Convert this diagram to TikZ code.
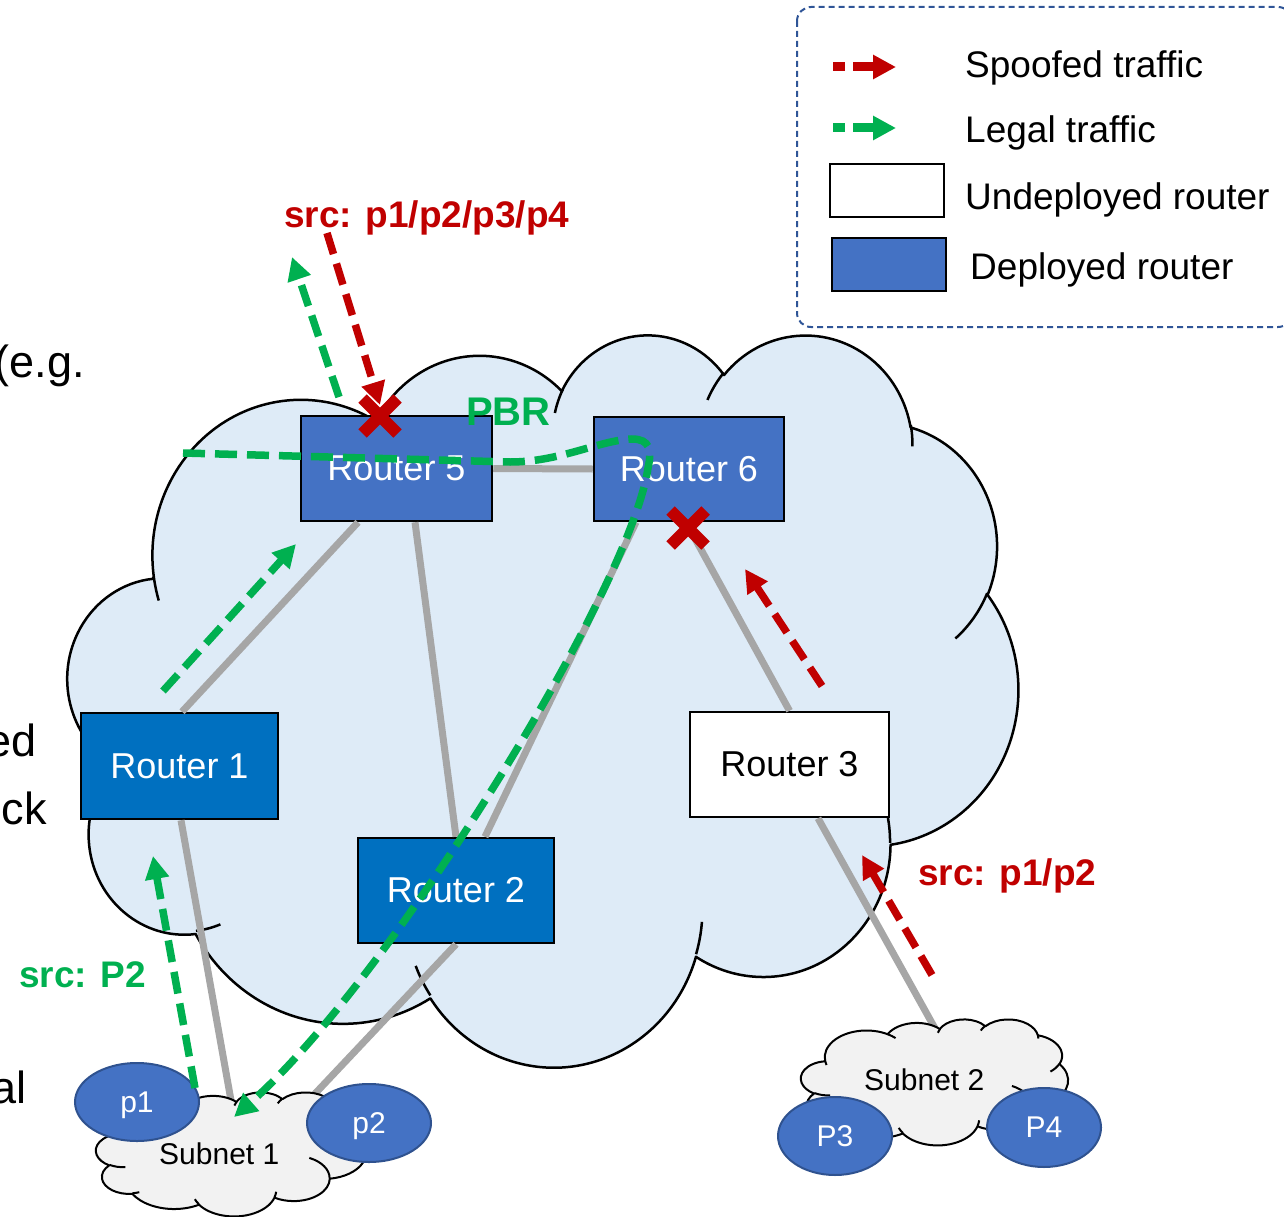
\documentclass[tikz,border=0pt]{standalone}
\usepackage{fontspec}
\setmainfont{Liberation Sans}
\usetikzlibrary{arrows.meta,shapes.geometric}

\definecolor{deployblue}{HTML}{4472C4}
\definecolor{routerblue}{HTML}{0070C0}
\definecolor{ovalrim}{HTML}{2F528F}
\definecolor{netfill}{HTML}{DEEBF7}
\definecolor{subnetfill}{HTML}{F2F2F2}
\definecolor{linkgray}{HTML}{A6A6A6}
\definecolor{legalgreen}{HTML}{00B050}
\definecolor{spoofred}{HTML}{C00000}
\definecolor{legendrim}{HTML}{2F5597}

% One elliptical lobe of a cloud: x radius, y radius, start angle, sweep.
% Angles are the directions seen from the lobe centre (y pointing down);
% they are turned into the parametric angles that arc expects.
\newcommand\lobearc[4]{arc[start angle={atan2((#1)*sin(#3),(#2)*cos(#3))},delta angle={mod(atan2((#1)*sin((#3)+(#4)),(#2)*cos((#3)+(#4)))-atan2((#1)*sin(#3),(#2)*cos(#3))+720,360)},x radius=#1,y radius=#2]}

% Cloud outline in a 4320 x 4320 box
\newcommand\cloudoutline{(390,1437)
 \lobearc{675.3}{919.0}{-190.4875}{123.7805}
 \lobearc{533.3}{726.7}{-144.1024}{89.9452}
 \lobearc{436.5}{594.5}{-145.8079}{99.7230}
 \lobearc{485.7}{659.5}{-130.9861}{117.2417}
 \lobearc{533.3}{727.3}{-78.7089}{109.0269}
 \lobearc{677.5}{922.0}{-46.2673}{130.2690}
 \lobearc{578.5}{786.7}{0.6250}{114.0333}
 \lobearc{675.2}{921.5}{22.4516}{115.1726}
 \lobearc{772.0}{1054.3}{66.2426}{75.7110}
 \lobearc{436.0}{591.8}{-274.9421}{146.7356}
 \lobearc{434.5}{594.5}{-246.8285}{152.5182}
 -- cycle}

% the short inner strokes between the lobes
\newcommand\cloudcreases{(469.3,2617.7) \lobearc{434.5}{594.5}{86.7420}{26.4295}
 (692.8,3489.9) \lobearc{436.0}{591.8}{73.6105}{11.4475}
 (1647.8,3909.0) \lobearc{675.2}{921.5}{137.6242}{14.0811}
 (2882.7,3475.1) \lobearc{675.2}{921.5}{6.4533}{15.9984}
 (3412.9,2295.4) \lobearc{578.5}{786.7}{-70.2924}{70.9174}
 (4179.8,1535.4) \lobearc{533.3}{727.3}{30.3180}{27.7515}
 (3832.4,542.6) \lobearc{485.7}{659.5}{-13.7443}{14.8589}
 (2907.8,395.2) \lobearc{485.7}{659.5}{-149.1815}{18.1954}
 (2214.1,472.0) \lobearc{436.5}{594.5}{-163.4943}{17.6864}
 (1400.0,519.2) \lobearc{675.3}{919.0}{-66.7070}{12.3194}
 (412.7,1578.9) \lobearc{675.3}{919.0}{157.6544}{11.8582}}

% left, top, x unit, y unit, fill, rim width
\newcommand\drawcloud[6]{%
  \begin{scope}[shift={(#1,#2)},x=#3,y=#4]
    \path[fill=#5,draw=black,line width=#6,line join=round] \cloudoutline;
    \draw[line width=#6] \cloudcreases;
  \end{scope}}

\begin{document}
\begin{tikzpicture}[x=1pt,y=-1pt,
  router/.style={draw=black,line width=2.5pt,inner sep=0pt,text=white,
    font=\fontsize{36}{40}\selectfont},
  host/.style={ellipse,draw=ovalrim,line width=2pt,fill=deployblue,inner sep=0pt,
    text=white,text depth=0pt,font=\fontsize{30}{34}\selectfont},
  link/.style={draw=linkgray,line width=7pt},
  legal/.style={draw=legalgreen,line width=7.5pt,dash pattern=on 22pt off 10pt,
    -{Triangle[length=23pt,width=23pt]}},
  spoof/.style={legal,draw=spoofred},
  xmark/.style={draw=spoofred,line width=12pt},
  flowtag/.style={font=\fontsize{37}{40}\selectfont\bfseries,inner sep=0pt,anchor=base west},
  plaintext/.style={inner sep=0pt,anchor=base west},
  legendtext/.style={font=\fontsize{37}{40}\selectfont,inner sep=0pt,anchor=base west},
  margintext/.style={font=\fontsize{45}{50}\selectfont,inner sep=0pt,anchor=base east},
  legendkey/.style={draw=black,line width=2.5pt,minimum width=114pt,minimum height=53pt,inner sep=0pt}]

\useasboundingbox (0,0) rectangle (1284,1217);

% the network cloud
\drawcloud{68}{333}{0.219907pt}{-0.169444pt}{netfill}{2.5pt}

% routers
\node[router,fill=deployblue,minimum width=191pt,minimum height=105pt] (r5) at (396.5,468.5) {Router 5};
\node[router,fill=deployblue,minimum width=190pt,minimum height=104pt] (r6) at (689,469) {Router 6};
\node[router,fill=routerblue,minimum width=197pt,minimum height=106pt] (r1) at (179.5,766) {Router 1};
\node[router,fill=routerblue,minimum width=196pt,minimum height=105pt] (r2) at (456,890.5) {Router 2};
\node[router,fill=white,text=black,minimum width=199pt,minimum height=105pt] (r3) at (789.5,764.5) {Router 3};

% attachment points on the subnets
\coordinate (s1a) at (232,1106);
\coordinate (s1b) at (310,1099);
\coordinate (s2a) at (937,1032);

% physical links
\draw[link] (r5.east) -- (r6.west);
\draw[link] ([xshift=-38.5pt]r5.south) -- ([xshift=2.5pt]r1.north);
\draw[link] ([xshift=18.5pt]r5.south) -- (r2.north);
\draw[link] ([xshift=-53pt]r6.south) -- ([xshift=29pt]r2.north);
\draw[link] ([xshift=-3pt]r6.south) -- (r3.north);
\draw[link] ([xshift=1.5pt]r1.south) -- (s1a);
\draw[link] (r2.south) -- (s1b);
\draw[link] ([xshift=28.5pt]r3.south) -- (s2a);

% subnets and their prefixes
\drawcloud{96}{1092}{0.0625pt}{-0.028704pt}{subnetfill}{2pt}
\drawcloud{801}{1019}{0.061806pt}{-0.029167pt}{subnetfill}{2pt}
\node[plaintext,font=\fontsize{30}{34}\selectfont] (sn1) at (159,1164) {Subnet 1};
\node[plaintext,font=\fontsize{30}{34}\selectfont] (sn2) at (864,1090) {Subnet 2};
\node[host,minimum width=124pt,minimum height=78pt] (p1) at (137,1102) {p1};
\node[host,minimum width=124pt,minimum height=78pt] (p2) at (369,1123) {p2};
\node[host,minimum width=114pt,minimum height=78pt] (p3) at (835,1136) {P3};
\node[host,minimum width=114pt,minimum height=79pt] (p4) at (1044,1127.5) {P4};

% traffic end points
\coordinate (g1a) at (163,691);   \coordinate (g1b) at (296,544);
\coordinate (g2a) at (339,397);   \coordinate (g2b) at (292,257);
\coordinate (g3a) at (195,1088);  \coordinate (g3b) at (153,856);
\coordinate (pbra) at (183,453);  \coordinate (pbrb) at (234,1117);
\coordinate (s5a) at (327,233);   \coordinate (s5b) at (380,405);
\coordinate (s6a) at (822,686);   \coordinate (s6b) at (745,569);
\coordinate (s3a) at (932,975);   \coordinate (s3b) at (862,855);

% legal traffic
\draw[legal] (g1a) -- (g1b);
\draw[legal] (g2a) -- (g2b);
\draw[legal] (g3a) -- (g3b);
\draw[legal] (pbra) -- (510,462) .. controls (560,462) and (600,440) .. (632,439)
  .. controls (650,439) and (652,450) .. (648,468)
  .. controls (630,590) and (390,980) .. (pbrb);

% spoofed traffic
\draw[spoof] (s5a) -- (s5b);
\draw[spoof] (s6a) -- (s6b);
\draw[spoof] (s3a) -- (s3b);

% filtering points
\draw[xmark] (380,416) +(-17.5,-17.5) -- +(17.5,17.5) +(-17.5,17.5) -- +(17.5,-17.5);
\draw[xmark] (688,528) +(-17.5,-17.5) -- +(17.5,17.5) +(-17.5,17.5) -- +(17.5,-17.5);

% flow labels
\node[flowtag,text=spoofred] (tsrc) at (284,227) {src: p1/p2/p3/p4};
\node[flowtag,text=legalgreen,font=\fontsize{40}{44}\selectfont\bfseries] (tpbr) at (466,425) {PBR};
\node[flowtag,text=legalgreen] (tp2) at (19,987) {src: P2};
\node[flowtag,text=spoofred] (tp12) at (918,885) {src: p1/p2};

% legend
\draw[legendrim,line width=2pt,dash pattern=on 6pt off 4pt,rounded corners=14pt] (797,7) rectangle (1292,327);
\coordinate (la1) at (833,67);  \coordinate (lb1) at (896,67);
\coordinate (la2) at (833,128); \coordinate (lb2) at (896,128);
\draw[spoof,line width=9pt,dash pattern=on 12pt off 8pt on 60pt off 8pt] (la1) -- (lb1);
\draw[legal,line width=9pt,dash pattern=on 12pt off 8pt on 60pt off 8pt] (la2) -- (lb2);
\node[legendkey,fill=white] (lkw) at (887,190.5) {};
\node[legendkey,fill=deployblue] (lkb) at (889,264.5) {};
\node[legendtext] (l1) at (965,78) {Spoofed traffic};
\node[legendtext] (l2) at (965,143) {Legal traffic};
\node[legendtext] (l3) at (965,209) {Undeployed router};
\node[legendtext] (l4) at (970,279) {Deployed router};

% text running in from the left edge
\node[margintext] (m1) at (85,377) {(e.g.};
\node[margintext] (m2) at (37,756) {ed};
\node[margintext] (m3) at (47,824) {ck};
\node[margintext] (m4) at (27,1103) {al};
\end{tikzpicture}
\end{document}
